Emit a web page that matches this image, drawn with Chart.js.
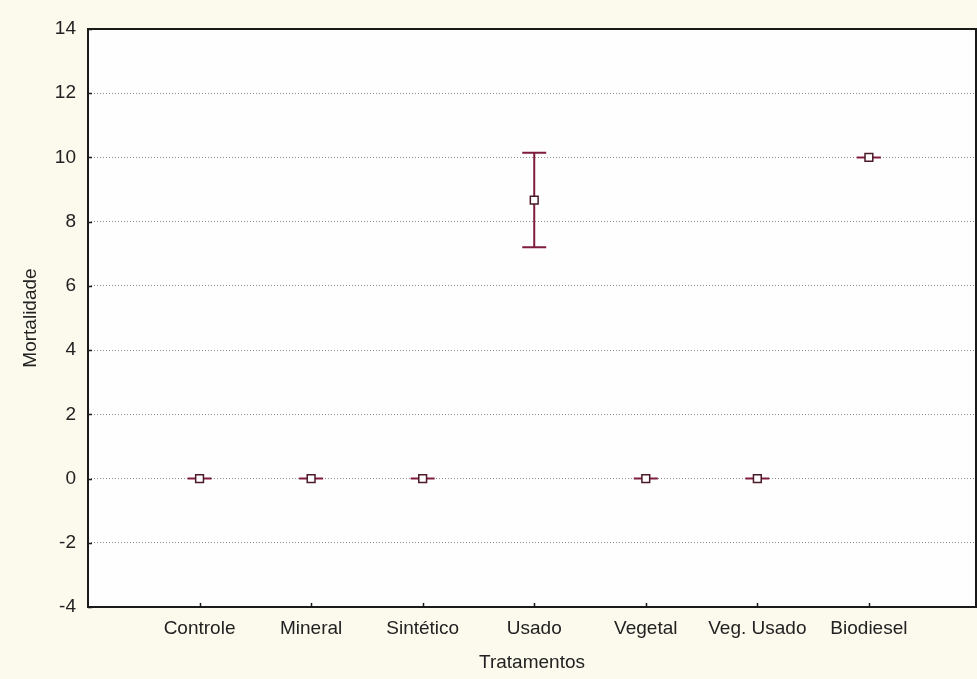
<!DOCTYPE html>
<html>
<head>
<meta charset="utf-8">
<script src="https://cdn.jsdelivr.net/npm/chart.js@4/dist/chart.umd.min.js"></script>
<style>
  html, body { margin: 0; padding: 0; background: #fcf9ed; }
  #wrap { width: 977px; height: 679px; }
</style>
</head>
<body>
<div id="wrap"><canvas id="mortChart" width="977" height="679"></canvas></div>
<script>
const tratamentos = ['Controle', 'Mineral', 'Sintético', 'Usado', 'Vegetal', 'Veg. Usado', 'Biodiesel'];
const medias = [0, 0, 0, 8.67, 0, 0, 10];
const limInf = [0, 0, 0, 7.2, 0, 0, 10];
const limSup = [0, 0, 0, 10.15, 0, 0, 10];
const yMin = -4, yMax = 14, yStep = 2;

const corBarra = '#801d3f';
const fonte = { family: '"Liberation Sans", Arial, sans-serif', size: 19 };

// white plot area, black frame, inner tick marks
const moldura = {
  id: 'moldura',
  beforeDraw(chart) {
    const { ctx, chartArea: a } = chart;
    ctx.save();
    ctx.fillStyle = '#fefefe';
    ctx.fillRect(a.left, a.top, a.right - a.left, a.bottom - a.top);
    ctx.restore();
  },
  afterDatasetsDraw(chart) {
    const { ctx, chartArea: a, scales } = chart;
    ctx.save();
    ctx.strokeStyle = '#1a1a1a';
    ctx.lineWidth = 1.5;
    ctx.beginPath();
    scales.y.ticks.forEach(t => {
      const py = Math.round(scales.y.getPixelForValue(t.value)) + 0.5;
      ctx.moveTo(a.left, py);
      ctx.lineTo(a.left + 4, py);
    });
    tratamentos.forEach((_, i) => {
      const px = Math.round(scales.x.getPixelForValue(i + 1)) + 0.5;
      ctx.moveTo(px, a.bottom);
      ctx.lineTo(px, a.bottom - 4);
    });
    ctx.stroke();
    ctx.lineWidth = 2;
    ctx.strokeRect(a.left, a.top, a.right - a.left, a.bottom - a.top);
    ctx.restore();
  }
};

// vertical error bars with caps, drawn under the square markers
const barrasErro = {
  id: 'barrasErro',
  beforeDatasetsDraw(chart) {
    const { ctx, scales } = chart;
    ctx.save();
    ctx.strokeStyle = corBarra;
    ctx.lineWidth = 2;
    medias.forEach((m, i) => {
      const px = scales.x.getPixelForValue(i + 1);
      const yLo = scales.y.getPixelForValue(limInf[i]);
      const yHi = scales.y.getPixelForValue(limSup[i]);
      ctx.beginPath();
      ctx.moveTo(px, yLo);
      ctx.lineTo(px, yHi);
      ctx.moveTo(px - 12, yHi);
      ctx.lineTo(px + 12, yHi);
      ctx.moveTo(px - 12, yLo);
      ctx.lineTo(px + 12, yLo);
      ctx.stroke();
    });
    ctx.restore();
  }
};

new Chart(document.getElementById('mortChart'), {
  type: 'scatter',
  data: {
    datasets: [{
      label: 'Mortalidade',
      data: medias.map((m, i) => ({ x: i + 1, y: m })),
      pointStyle: 'rect',
      pointRadius: 5.5,
      pointHoverRadius: 5.5,
      pointBackgroundColor: '#ffffff',
      pointBorderColor: '#4a1a26',
      pointBorderWidth: 1.5
    }]
  },
  options: {
    responsive: false,
    animation: false,
    layout: { autoPadding: false, padding: { top: 29, right: 1, left: 0, bottom: 0 } },
    plugins: {
      legend: { display: false },
      tooltip: { enabled: false }
    },
    scales: {
      x: {
        type: 'linear',
        min: 0,
        max: 7.96,
        border: { display: false },
        grid: { drawOnChartArea: false, drawTicks: false },
        ticks: {
          stepSize: 1,
          autoSkip: false,
          maxRotation: 0,
          padding: 10,
          color: '#222',
          font: fonte,
          callback: v => tratamentos[v - 1] || ''
        },
        title: {
          display: true,
          text: 'Tratamentos',
          color: '#222',
          font: fonte,
          padding: { top: 0, bottom: 5 }
        },
        afterFit(scale) {
          scale.height = 72;
          // no side padding from the tick labels, the frame runs to the edge
          scale.paddingLeft = 0;
          scale.paddingRight = 0;
        }
      },
      y: {
        min: yMin,
        max: yMax,
        border: { display: false, dash: [1, 2] },
        grid: {
          color: '#8f8f8f',
          lineWidth: 1,
          drawTicks: false
        },
        ticks: {
          stepSize: yStep,
          padding: 12,
          color: '#222',
          font: fonte
        },
        title: {
          display: true,
          text: 'Mortalidade',
          color: '#222',
          font: fonte,
          padding: { top: 19, bottom: 0 }
        },
        afterFit(scale) { scale.width = 88; }
      }
    }
  },
  plugins: [moldura, barrasErro]
});
</script>
</body>
</html>
